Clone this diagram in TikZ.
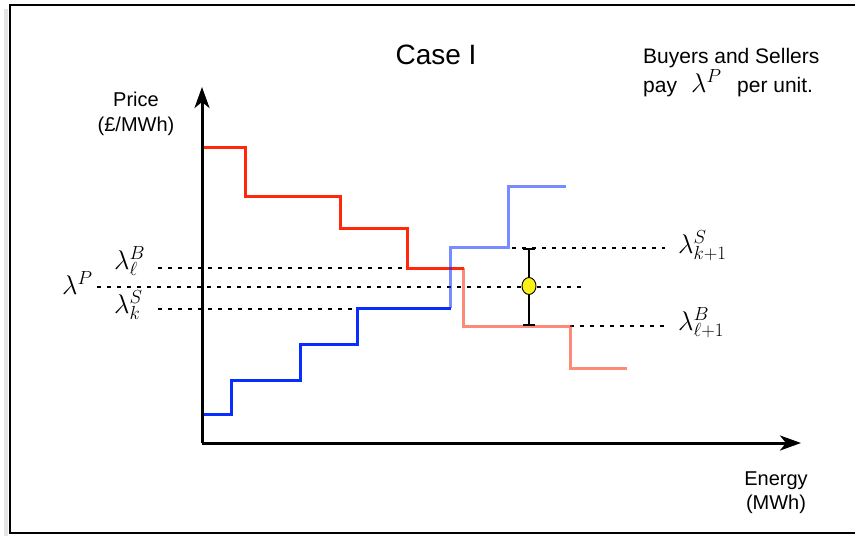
\documentclass[tikz,border=0pt]{standalone}
\usepackage{fix-cm}
\usepackage[no-math]{fontspec}
\setmainfont{Liberation Sans}
\usetikzlibrary{arrows.meta,shapes.geometric}
\definecolor{redA}{RGB}{255,40,10}
\definecolor{blueA}{RGB}{10,45,255}
\definecolor{dotY}{RGB}{250,240,20}
\tikzset{
  axisline/.style={line width=3pt,-{Stealth[length=21pt,width=15pt,inset=6pt]}},
  demand/.style={line width=3pt,draw=redA,line join=miter},
  demandpale/.style={demand,draw opacity=0.55},
  supply/.style={line width=3pt,draw=blueA,line join=miter},
  supplypale/.style={supply,draw opacity=0.55},
  guide/.style={line width=2pt,dash pattern=on 4pt off 6pt},
  txt/.style={font=\fontsize{20}{24}\selectfont,inner sep=0pt},
  mlbl/.style={font=\fontsize{27}{31}\selectfont,inner sep=0pt,anchor=base west},
}
\begin{document}
\begin{tikzpicture}[x=1pt,y=-1pt]
\clip (0,0) rectangle (855,536);
% frame with a faint shadow
\draw[gray!20,line width=4pt] (6,9) -- (6,540);
\draw[line width=2.5pt] (10,5) rectangle (880,533);

% guide lines
\coordinate (lBs) at (158,268); \coordinate (lBe) at (407,268);
\coordinate (lPs) at (97,287);  \coordinate (lPe) at (583,287);
\coordinate (lSs) at (158,309); \coordinate (lSe) at (357,309);
\coordinate (kSs) at (512,248); \coordinate (kSe) at (665,248);
\coordinate (nBs) at (570,326); \coordinate (nBe) at (665,326);
\draw[guide] (lBs) -- (lBe);
\draw[guide] (lPs) -- (lPe);
\draw[guide] (lSs) -- (lSe);
\draw[guide] (kSs) -- (kSe);
\draw[guide] (nBs) -- (nBe);

% demand (buyers) curve
\draw[demand] (202,147) -- (245,147) -- (245,196) -- (340,196) -- (340,228)
  -- (407,228) -- (407,268) -- (464,268);
\draw[demandpale] (463,268) -- (463,326) -- (570,326) -- (570,368) -- (627,368);
% supply (sellers) curve
\draw[supply] (202,414) -- (231,414) -- (231,380) -- (300,380) -- (300,344)
  -- (357,344) -- (357,308) -- (451,308);
\draw[supplypale] (450,308) -- (450,247) -- (508,247) -- (508,186) -- (566,186);

% axes
\coordinate (O) at (202,443);
\coordinate (Ytip) at (202,87);
\coordinate (Xtip) at (801,443);
\draw[axisline] (O) -- (Ytip);
\draw[axisline] (O) -- (Xtip);

% price range bar with clearing price
\coordinate (barT) at (529,248);
\coordinate (barB) at (529,326);
\draw[line width=2pt,{Bar[width=12pt]}-{Bar[width=12pt]}] (barT) -- (barB);
\node[ellipse,draw=black,line width=0.9pt,fill=dotY,minimum width=14pt,minimum height=17pt,inner sep=0pt] (clear) at (529,286) {};

% math labels
\node[mlbl] (labB) at (114,269) {$\lambda^{B}_{\ell}$};
\node[mlbl] (labP) at (62,294) {$\lambda^{P}$};
\node[mlbl] (labS) at (114,313) {$\lambda^{S}_{k}$};
\node[mlbl] (labS1) at (678,253) {$\lambda^{S}_{k+1}$};
\node[mlbl] (labB1) at (678,330) {$\lambda^{B}_{\ell+1}$};

% texts
\node[font=\fontsize{28}{32}\selectfont,inner sep=0pt,anchor=base] (title) at (436,64) {Case I};
\node[font=\fontsize{21}{25}\selectfont,inner sep=0pt,anchor=base west] (note1) at (643,63) {Buyers and Sellers};
\node[font=\fontsize{21}{25}\selectfont,inner sep=0pt,anchor=base west] (note2) at (643,92) {pay};
\node[mlbl] (note3) at (691,92) {$\lambda^{P}$};
\node[font=\fontsize{21}{25}\selectfont,inner sep=0pt,anchor=base west] (note4) at (737,92) {per unit.};
\node[txt,anchor=base] (price) at (136,106) {Price};
\node[txt,anchor=base] (pricu) at (136,131) {(£/MWh)};
\node[txt,anchor=base] (energy) at (776,485) {Energy};
\node[txt,anchor=base] (energu) at (776,509) {(MWh)};
\end{tikzpicture}
\end{document}
